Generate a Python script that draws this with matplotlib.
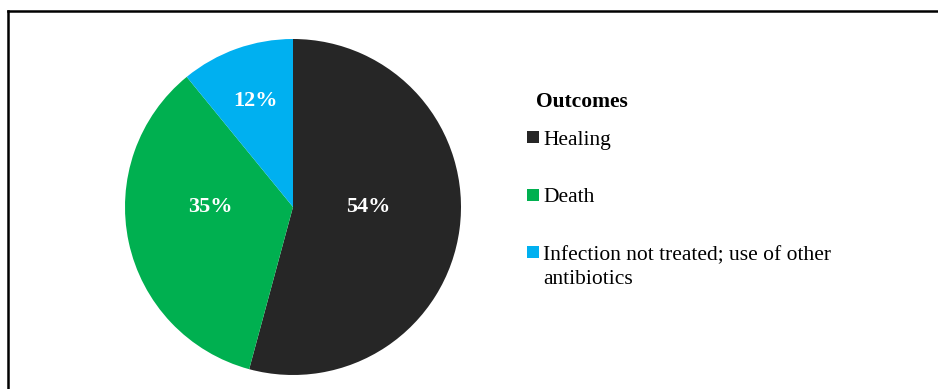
import matplotlib.pyplot as plt
from matplotlib.lines import Line2D
from matplotlib.patches import Rectangle
import numpy as np

# Outcome shares (slice sizes) and the printed labels
outcomes = ['Healing', 'Death', 'Infection not treated; use of other\nantibiotics']
shares = [54.2, 34.9, 10.9]
pct_labels = ['54%', '35%', '12%']
colors = ['#262626', '#00B050', '#00B0F0']

plt.rcParams['font.family'] = ['Liberation Serif', 'DejaVu Serif']

fig = plt.figure(figsize=(9.38, 3.89), dpi=100)
W, H = 938, 389

# pie axes: centre (293, 207), radius 168 px
cx, cy, r = 293, 207, 168
ax = fig.add_axes([(cx - r) / W, (H - cy - r) / H, 2 * r / W, 2 * r / H])
wedges, _ = ax.pie(shares, colors=colors, startangle=90, counterclock=False,
                   radius=1, wedgeprops=dict(linewidth=0))
ax.set_xlim(-1, 1)
ax.set_ylim(-1, 1)
ax.set_aspect('equal')
ax.axis('off')

# percentage labels inside the slices
dists = [0.45, 0.5, 0.67]
for w, lab, d in zip(wedges, pct_labels, dists):
    ang = np.deg2rad((w.theta1 + w.theta2) / 2)
    x, y = d * np.cos(ang), d * np.sin(ang)
    if lab != '12%':
        y = 0.0
    ax.text(x, y, lab, ha='center', va='center', color='white',
            fontsize=16, fontweight='bold')

# legend drawn by hand (Excel style: marker on the first line of each entry)
def fx(px):
    return px / W

def fy(py):
    return 1 - py / H

fig.text(fx(536), fy(107), 'Outcomes', fontsize=15.5, fontweight='bold',
         ha='left', va='baseline')
for i, (name, col) in enumerate(zip(outcomes, colors)):
    base = 145 + i * 57.5
    fig.add_artist(Rectangle((fx(527), fy(base - 2)), 12 / W, 12 / H,
                             transform=fig.transFigure, color=col, lw=0))
    for j, line in enumerate(name.split('\n')):
        fig.text(fx(543), fy(base + j * 24), line, fontsize=15.5,
                 ha='left', va='baseline')

# frame lines (only top and left edges visible)
fig.add_artist(Line2D([8 / W, 1], [1 - 11 / H, 1 - 11 / H], color='black', lw=1.8))
fig.add_artist(Line2D([8 / W, 8 / W], [0, 1 - 11 / H], color='black', lw=1.8))

fig.savefig('out.png', dpi=100)
